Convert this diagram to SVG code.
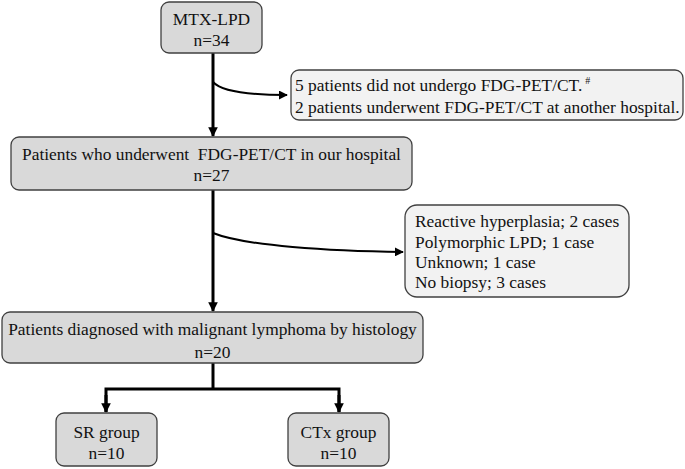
<svg xmlns="http://www.w3.org/2000/svg" width="685" height="469" viewBox="0 0 685 469" font-family="'Liberation Serif', 'DejaVu Serif', serif">
<defs>
<marker id="ah" viewBox="0 0 10 10" refX="9" refY="5" markerWidth="3.2" markerHeight="3.2" orient="auto" markerUnits="strokeWidth"><path d="M0,0 L10,5 L0,10 z" fill="#000"/></marker>
<marker id="ahs" viewBox="0 0 10 10" refX="9" refY="5" markerWidth="4.5" markerHeight="4.5" orient="auto" markerUnits="strokeWidth"><path d="M0,0 L10,5 L0,10 z" fill="#000"/></marker>
</defs>
<style>
text{font-family:'Liberation Serif','DejaVu Serif',serif;font-size:17.4px;fill:#111}
.c{text-anchor:middle}
.main{fill:#d9d9d9;stroke:#404040;stroke-width:1.3}
.side{fill:#f2f2f2;stroke:#404040;stroke-width:1.3}
.thick{fill:none;stroke:#000;stroke-width:3}
.thin{fill:none;stroke:#000;stroke-width:2}
</style>
<rect width="685" height="469" fill="#fff"/>
<g id="connectors">
<line class="thick" x1="213" y1="53" x2="213" y2="136" marker-end="url(#ah)"/>
<path class="thin" d="M213,82 C222,92 250,95 287,95" marker-end="url(#ahs)"/>
<line class="thick" x1="213" y1="190" x2="213" y2="311" marker-end="url(#ah)"/>
<path class="thin" d="M213,233 C245,246 330,251 403,252" marker-end="url(#ahs)"/>
<path class="thick" d="M213,363 V389"/>
<path class="thick" d="M106,412 V389 H339 V412" stroke-linejoin="miter"/>
<line class="thick" x1="106" y1="395" x2="106" y2="412" marker-end="url(#ah)"/>
<line class="thick" x1="339" y1="395" x2="339" y2="412" marker-end="url(#ah)"/>
</g>
<g id="n-mtx">
<rect class="main" x="161" y="2" width="101" height="51" rx="8"/>
<text class="c" x="211.5" y="25">MTX-LPD</text>
<text class="c" x="211.5" y="46">n=34</text>
</g>
<g id="n-excl1">
<rect class="side" x="291" y="70" width="392" height="50" rx="8"/>
<text x="295" y="91">5 patients did not undergo FDG-PET/CT.<tspan dx="3" dy="-7" font-size="10">#</tspan></text>
<text x="295" y="113">2 patients underwent FDG-PET/CT at another hospital.</text>
</g>
<g id="n-pet">
<rect class="main" x="11" y="137" width="401" height="53" rx="8"/>
<text class="c" x="211.5" y="160" xml:space="preserve">Patients who underwent  FDG-PET/CT in our hospital</text>
<text class="c" x="211.5" y="181">n=27</text>
</g>
<g id="n-excl2">
<rect class="side" x="405" y="205" width="224" height="92" rx="12"/>
<text x="415" y="227">Reactive hyperplasia; 2 cases</text>
<text x="415" y="248">Polymorphic LPD; 1 case</text>
<text x="415" y="268">Unknown; 1 case</text>
<text x="415" y="288">No biopsy; 3 cases</text>
</g>
<g id="n-ml">
<rect class="main" x="2" y="312" width="421" height="51" rx="8"/>
<text class="c" x="212.5" y="335">Patients diagnosed with malignant lymphoma by histology</text>
<text class="c" x="212.5" y="358">n=20</text>
</g>
<g id="n-sr">
<rect class="main" x="56" y="413" width="101" height="53" rx="8"/>
<text class="c" x="106.5" y="438">SR group</text>
<text class="c" x="106.5" y="459">n=10</text>
</g>
<g id="n-ctx">
<rect class="main" x="288" y="413" width="101" height="53" rx="8"/>
<text class="c" x="338.5" y="438">CTx group</text>
<text class="c" x="338.5" y="459">n=10</text>
</g>
</svg>
